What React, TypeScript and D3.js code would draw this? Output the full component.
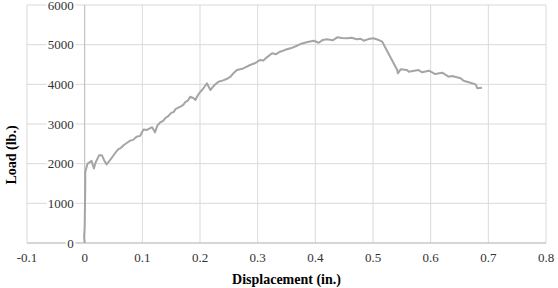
import React from "react";
import * as d3 from "d3";

// displacement (in.) and load (lb.)
const displacement = [
  0, -0.001, 0.0, 0.0005, 0.001, 0.001, 0.003, 0.005, 0.009, 0.012, 0.016, 0.019, 0.025, 0.03, 0.034, 0.038,
  0.043, 0.047, 0.052, 0.058, 0.063, 0.068, 0.073, 0.079, 0.084, 0.09, 0.096, 0.102, 0.108, 0.117, 0.122,
  0.126, 0.131, 0.136, 0.14, 0.145, 0.15, 0.154, 0.158, 0.166, 0.171, 0.175, 0.179,
  0.183, 0.188, 0.192, 0.196, 0.2, 0.206, 0.212, 0.218, 0.225, 0.232, 0.24, 0.247, 0.253, 0.258, 0.264, 0.275,
  0.287, 0.295, 0.304, 0.31, 0.316, 0.325, 0.332, 0.339, 0.348, 0.357, 0.366, 0.374, 0.385,
  0.397, 0.406, 0.413, 0.42, 0.43, 0.438, 0.446, 0.455, 0.463, 0.472, 0.478, 0.484, 0.492, 0.501, 0.51, 0.516,
  0.542, 0.543, 0.548, 0.559, 0.562, 0.579, 0.585, 0.597, 0.608, 0.62, 0.631, 0.637, 0.652, 0.657, 0.669,
  0.678, 0.681, 0.689,
];
const load = [
  0, 150, 400, 900, 1400, 1780, 1900, 2000, 2040, 2070, 1880, 2030, 2210, 2210, 2080, 1980,
  2070, 2150, 2250, 2360, 2400, 2470, 2520, 2580, 2600, 2680, 2700, 2860, 2850, 2920, 2790,
  2960, 3040, 3080, 3150, 3200, 3280, 3300, 3380, 3436, 3480, 3560, 3590,
  3688, 3660, 3605, 3720, 3800, 3900, 4026, 3857, 3980, 4066, 4100, 4140, 4192, 4280, 4361, 4400,
  4487, 4530, 4613, 4600, 4680, 4782, 4760, 4822, 4870, 4908, 4960, 5016, 5060,
  5100, 5049, 5120, 5135, 5110, 5185, 5170, 5160, 5175, 5135, 5150, 5100, 5140, 5160, 5117, 5075,
  4361, 4278, 4378, 4361, 4318, 4361, 4303, 4344, 4260, 4293, 4192, 4210, 4152, 4091, 4041,
  4000, 3900, 3915,
];
const xTicks = [-0.1, 0, 0.1, 0.2, 0.3, 0.4, 0.5, 0.6, 0.7, 0.8];
const xLabels = ["-0.1", "0", "0.1", "0.2", "0.3", "0.4", "0.5", "0.6", "0.7", "0.8"];
const yTicks = [0, 1000, 2000, 3000, 4000, 5000, 6000];

const width = 558, height = 288;
const left = 27, right = 546, top = 5, bottom = 243;

const App = () => {
  const x = d3.scaleLinear().domain([-0.1, 0.8]).range([left, right]);
  const y = d3.scaleLinear().domain([0, 6000]).range([bottom, top]);

  const pts: [number, number][] = displacement.map((d, i) => [d, load[i]]);
  const line = d3.line<[number, number]>()
    .x(d => x(d[0]))
    .y(d => y(d[1]));

  const font = "Liberation Serif";

  return (
    <svg width={width} height={height} style={{ position: "absolute", left: 0, top: 0, background: "#fff" }}>
      {xTicks.map(t => (
        <line key={"gx" + t} x1={x(t)} x2={x(t)} y1={top} y2={bottom} stroke="#d9d9d9" strokeWidth={1} />
      ))}
      {yTicks.map(t => (
        <line key={"gy" + t} x1={left} x2={right} y1={y(t)} y2={y(t)} stroke="#d9d9d9" strokeWidth={1} />
      ))}
      <line x1={left} x2={right} y1={bottom} y2={bottom} stroke="#bfbfbf" strokeWidth={1} />
      <line x1={x(0)} x2={x(0)} y1={top} y2={bottom} stroke="#bfbfbf" strokeWidth={1} />
      {yTicks.map(t => (
        <text
          key={"ty" + t}
          x={x(0) - 11}
          y={y(t)}
          dy="0.35em"
          textAnchor="end"
          fontFamily={font}
          fontSize={13}
          fill="#333"
          stroke="#fff"
          strokeWidth={4}
          paintOrder="stroke"
        >
          {t}
        </text>
      ))}
      {xTicks.map((t, i) => (
        <text key={"tx" + t} x={x(t)} y={262} textAnchor="middle" fontFamily={font} fontSize={13} fill="#333">
          {xLabels[i]}
        </text>
      ))}
      <path d={line(pts) ?? ""} fill="none" stroke="#a5a5a5" strokeWidth={2} strokeLinejoin="round" />
      <text x={(left + right) / 2} y={284} textAnchor="middle" fontFamily={font} fontSize={14} fontWeight="bold">
        Displacement (in.)
      </text>
      <text
        transform={`translate(16, 155) rotate(-90)`}
        textAnchor="middle"
        fontFamily={font}
        fontSize={14}
        fontWeight="bold"
      >
        Load (lb.)
      </text>
    </svg>
  );
};

export default App;
